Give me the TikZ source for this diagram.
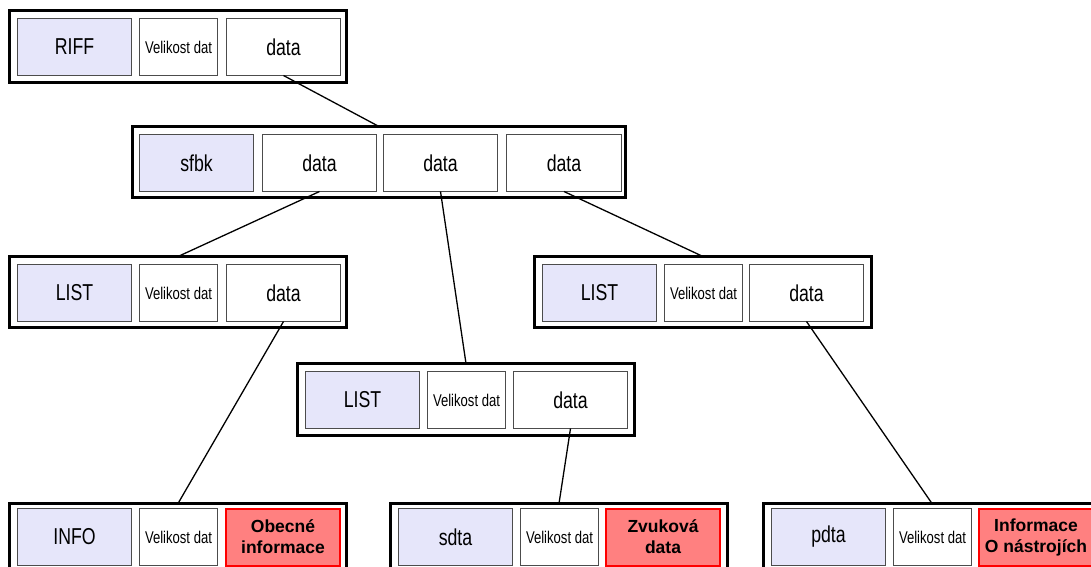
\documentclass[tikz,border=0pt]{standalone}
\usepackage{fontspec}
\setmainfont{Liberation Sans}
\newfontfamily\uzkyfont[FakeStretch=0.77]{Liberation Sans}
\usepackage{tikz}
\usetikzlibrary{positioning}

\definecolor{lavendel}{RGB}{230,230,250}
\definecolor{cervena}{RGB}{255,128,128}
\newcommand{\velky}{\uzkyfont\fontsize{23}{27}\selectfont}
\newcommand{\maly}{\uzkyfont\fontsize{17}{20}\selectfont}
\newcommand{\tucny}{\bfseries\fontsize{17.5}{21}\selectfont}

\begin{document}
\begin{tikzpicture}[x=1pt,y=-1pt,
  skupina/.style={draw=black,line width=3pt,minimum width=337pt,minimum height=72pt,inner sep=0pt,outer sep=0pt,anchor=north west},
  bunka/.style={draw=black!70,line width=1pt,minimum height=57pt,inner sep=0pt,outer sep=0pt,anchor=north west,fill=white},
  hlavicka/.style={bunka,fill=lavendel,minimum width=114pt,font=\velky},
  velikost/.style={bunka,minimum width=78pt,font=\maly},
  obsah/.style={bunka,minimum width=114pt,font=\velky},
  popis/.style={bunka,draw=red,line width=2pt,fill=cervena,minimum width=114pt,font=\tucny,align=center},
  spoj/.style={line width=1.3pt}]
\useasboundingbox (0,0) rectangle (1091,566);
\clip (0,0) rectangle (1091,566);
% RIFF
\node[skupina] (riffgrp) at (9.5,10.5) {};
  \node[hlavicka] (riff) at (17.5,18.5) {RIFF};
  \node[velikost] (riffvel) at (139.5,18.5) {Velikost dat};
  \node[obsah] (riffdata) at (226.5,18.5) {data};
% sfbk
\node[skupina,minimum width=493pt,minimum height=71pt] (sfbkgrp) at (132.5,126.5) {};
  \node[hlavicka] (sfbk) at (139.5,134.5) {sfbk};
  \node[obsah] (sfbkdataA) at (262.5,134.5) {data};
  \node[obsah] (sfbkdataB) at (383.5,134.5) {data};
  \node[obsah,minimum width=115pt] (sfbkdataC) at (506.5,134.5) {data};
% LIST vlevo
\node[skupina,minimum height=71pt] (listAgrp) at (9.5,256.5) {};
  \node[hlavicka] (listA) at (17.5,264.5) {LIST};
  \node[velikost] (listAvel) at (139.5,264.5) {Velikost dat};
  \node[obsah] (listAdata) at (226.5,264.5) {data};
% LIST uprostred
\node[skupina,minimum height=72pt] (listBgrp) at (297.5,363.5) {};
  \node[hlavicka] (listB) at (305.5,371.5) {LIST};
  \node[velikost] (listBvel) at (427.5,371.5) {Velikost dat};
  \node[obsah] (listBdata) at (513.5,371.5) {data};
% LIST vpravo
\node[skupina,minimum height=71pt] (listCgrp) at (534.5,256.5) {};
  \node[hlavicka] (listC) at (542.5,264.5) {LIST};
  \node[velikost] (listCvel) at (664.5,264.5) {Velikost dat};
  \node[obsah] (listCdata) at (749.5,264.5) {data};
% INFO
\node[skupina] (infogrp) at (9.5,503.5) {};
  \node[hlavicka] (info) at (17.5,508.5) {INFO};
  \node[velikost] (infovel) at (139.5,508.5) {Velikost dat};
  \node[popis] (infopopis) at (226,508.5) {Obecné\\informace};
% sdta
\node[skupina] (sdtagrp) at (390.5,503.5) {};
  \node[hlavicka] (sdta) at (398.5,508.5) {sdta};
  \node[velikost] (sdtavel) at (520.5,508.5) {Velikost dat};
  \node[popis] (sdtapopis) at (606,508.5) {Zvuková\\data};
% pdta
\node[skupina] (pdtagrp) at (763.5,503.5) {};
  \node[hlavicka] (pdta) at (771.5,508.5) {pdta};
  \node[velikost] (pdtavel) at (893.5,508.5) {Velikost dat};
  \node[popis] (pdtapopis) at (979,508.5) {Informace\\O nástrojích};
% spoje
\draw[spoj] (riffdata.south) -- (sfbkgrp.north);
\draw[spoj] (sfbkdataA.south) -- (listAgrp.north);
\draw[spoj] (sfbkdataB.south) -- (listBgrp.north);
\draw[spoj] (sfbkdataC.south) -- (listCgrp.north);
\draw[spoj] (listAdata.south) -- (infogrp.north);
\draw[spoj] (listBdata.south) -- (sdtagrp.north);
\draw[spoj] (listCdata.south) -- (pdtagrp.north);
\end{tikzpicture}
\end{document}
